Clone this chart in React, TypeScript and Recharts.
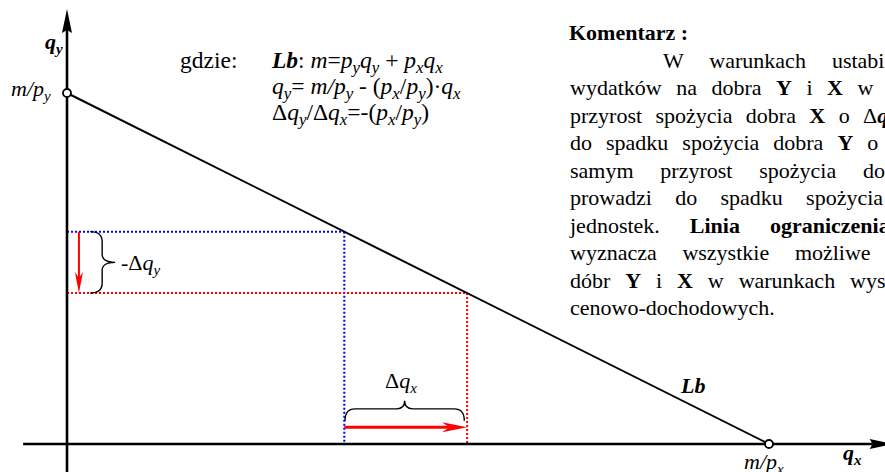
import React from "react";
import { ComposedChart, Line, XAxis, YAxis, ReferenceLine } from "recharts";

const W = 885;
const H = 472;
const UNIT = 35.1; // px per unit, same on both axes
const ORIGIN_X = 67;
const ORIGIN_Y = 444;
const SERIF = "'Liberation Serif', 'Times New Roman', serif";

// budget line: intercepts m/py (qy axis) and m/px (qx axis)
const mPy = 10;
const mPx = 20;
const budgetLine = [
  { qx: 0, qy: mPy },
  { qx: mPx, qy: 0 },
];

// the two bundles on the line
const qx1 = 7.9;
const qy1 = 6.05;
const qx2 = 11.4;
const qy2 = 4.3;

// axis extents
const xAxisFrom = -1.25;
const xAxisTo = 23.55;
const yAxisFrom = -0.9;
const yAxisTo = 12.39;

// annotation positions (data units)
const dqyArrowX = 0.34;
const dqyBraceX = 0.66;
const dqxArrowY = 0.48;
const dqxBraceY = 0.66;

const xDomain = [-ORIGIN_X / UNIT, (W - ORIGIN_X) / UNIT];
const yDomain = [-(H - ORIGIN_Y) / UNIT, ORIGIN_Y / UNIT];

const BLUE = "#0000ff";
const RED = "#ff0000";

type Part = [string, string?];

function Rich({
  x,
  y,
  parts,
  size = 22,
  ws = 0,
  subRatio = 0.68,
}: {
  x: number;
  y: number;
  parts: Part[];
  size?: number;
  ws?: number;
  subRatio?: number;
}) {
  let shift = 0;
  return (
    <text x={x} y={y} fontSize={size} fontFamily={SERIF} fill="#000" style={{ whiteSpace: "pre", wordSpacing: ws }}>
      {parts.map(([t, f = ""], i) => {
        const sub = f.includes("s");
        const target = sub ? Math.round(size * 0.23) : 0;
        const dy = target - shift;
        shift = target;
        return (
          <tspan
            key={i}
            dy={dy}
            fontStyle={f.includes("i") ? "italic" : "normal"}
            fontWeight={f.includes("b") ? "bold" : "normal"}
            fontSize={sub ? size * subRatio : size}
          >
            {t}
          </tspan>
        );
      })}
    </text>
  );
}

const arrowShape =
  (color: string, width: number, len: number, half: number, notch: number) =>
  (p: any) => {
    const { x1, y1, x2, y2 } = p;
    const dx = x2 - x1;
    const dy = y2 - y1;
    const L = Math.hypot(dx, dy) || 1;
    const ux = dx / L;
    const uy = dy / L;
    const nx = -uy;
    const ny = ux;
    const bx = x2 - ux * len;
    const by = y2 - uy * len;
    const mx = x2 - ux * (len - notch);
    const my = y2 - uy * (len - notch);
    const pts = `${x2},${y2} ${bx + nx * half},${by + ny * half} ${mx},${my} ${bx - nx * half},${by - ny * half}`;
    return (
      <g>
        <line x1={x1} y1={y1} x2={mx} y2={my} stroke={color} strokeWidth={width} />
        <polygon points={pts} fill={color} />
      </g>
    );
  };

// "}" brace, opening left
const braceV = (p: any) => {
  const { x1, y1, y2 } = p;
  const top = Math.min(y1, y2);
  const bot = Math.max(y1, y2);
  const mid = (top + bot) / 2;
  const s = x1 + 12;
  const tip = s + 13;
  const d = `M ${x1} ${top} Q ${s} ${top} ${s} ${top + 10} L ${s} ${mid - 8} Q ${s} ${mid} ${tip} ${mid} Q ${s} ${mid} ${s} ${mid + 8} L ${s} ${bot - 10} Q ${s} ${bot} ${x1} ${bot}`;
  return <path d={d} fill="none" stroke="#000" strokeWidth={1.4} />;
};

// brace opening down, point up
const braceH = (p: any) => {
  const { x1, x2, y1 } = p;
  const l = Math.min(x1, x2);
  const r = Math.max(x1, x2);
  const mid = (l + r) / 2;
  const f = y1 - 12;
  const tip = f - 8;
  const d = `M ${l} ${y1} Q ${l} ${f} ${l + 10} ${f} L ${mid - 8} ${f} Q ${mid} ${f} ${mid} ${tip} Q ${mid} ${f} ${mid + 8} ${f} L ${r - 10} ${f} Q ${r} ${f} ${r} ${y1}`;
  return <path d={d} fill="none" stroke="#000" strokeWidth={1.4} />;
};

const hollowDot = (props: any) => (
  <circle key={props.index} cx={props.cx} cy={props.cy} r={4} fill="#fff" stroke="#000" strokeWidth={1.8} />
);

// justified comment block, one entry per printed line (ws = extra word spacing)
const commentLines: { x: number; y: number; ws: number; parts: Part[] }[] = [
  { x: 569, y: 40, ws: 0, parts: [["Komentarz :", "b"]] },
  { x: 663, y: 67.5, ws: 20.5, parts: [["W warunkach ustabilizowanych"]] },
  { x: 570, y: 95, ws: 9, parts: [["wydatków na dobra "], ["Y", "b"], [" i "], ["X", "b"], [" w wysokości"]] },
  { x: 570, y: 122.5, ws: 7.9, parts: [["przyrost spożycia dobra "], ["X", "b"], [" o Δ"], ["q", "bi"], ["x", "bis"]] },
  { x: 570, y: 150, ws: 8.5, parts: [["do spadku spożycia dobra "], ["Y", "b"], [" o"]] },
  { x: 570, y: 177.5, ws: 21.3, parts: [["samym przyrost spożycia dobra"]] },
  { x: 570, y: 205, ws: 17.8, parts: [["prowadzi do spadku spożycia"]] },
  { x: 570, y: 232.5, ws: 24.5, parts: [["jednostek. "], ["Linia ograniczenia", "b"]] },
  { x: 570, y: 260, ws: 20.2, parts: [["wyznacza wszystkie możliwe"]] },
  { x: 570, y: 287.5, ws: 9.4, parts: [["dóbr "], ["Y", "b"], [" i "], ["X", "b"], [" w warunkach występowania"]] },
  { x: 570, y: 315, ws: 0, parts: [["cenowo-dochodowych."]] },
];

const EQ = 23.5;

export default function App() {
  return (
    <div style={{ position: "absolute", left: 0, top: 0, width: W, height: H, overflow: "hidden", background: "#fff" }}>
      <ComposedChart width={W} height={H} data={budgetLine} margin={{ top: 0, right: 0, bottom: 0, left: 0 }}>
        <XAxis type="number" dataKey="qx" domain={xDomain} allowDataOverflow hide />
        <YAxis type="number" domain={yDomain} allowDataOverflow hide />

        <ReferenceLine segment={[{ x: 0, y: qy1 }, { x: qx1, y: qy1 }]} stroke={BLUE} strokeWidth={2} strokeDasharray="2 2" />
        <ReferenceLine segment={[{ x: qx1, y: qy1 }, { x: qx1, y: 0 }]} stroke={BLUE} strokeWidth={2} strokeDasharray="2 2" />
        <ReferenceLine segment={[{ x: 0, y: qy2 }, { x: qx2, y: qy2 }]} stroke={RED} strokeWidth={2} strokeDasharray="2 2" />
        <ReferenceLine segment={[{ x: qx2, y: qy2 }, { x: qx2, y: 0 }]} stroke={RED} strokeWidth={2} strokeDasharray="2 2" />

        <ReferenceLine
          segment={[{ x: xAxisFrom, y: 0 }, { x: xAxisTo, y: 0 }]}
          ifOverflow="visible"
          shape={arrowShape("#000", 2.6, 24, 5, 3)}
        />
        <ReferenceLine
          segment={[{ x: 0, y: yAxisFrom }, { x: 0, y: yAxisTo }]}
          ifOverflow="visible"
          shape={arrowShape("#000", 2.6, 24, 5, 3)}
        />

        <ReferenceLine segment={[{ x: dqyArrowX, y: qy1 }, { x: dqyArrowX, y: qy2 }]} shape={arrowShape(RED, 2, 21, 4, 6)} />
        <ReferenceLine segment={[{ x: qx1, y: dqxArrowY }, { x: qx2, y: dqxArrowY }]} shape={arrowShape(RED, 3, 25, 5, 7)} />

        <ReferenceLine segment={[{ x: dqyBraceX, y: qy1 }, { x: dqyBraceX, y: qy2 }]} shape={braceV} />
        <ReferenceLine segment={[{ x: qx1 + 0.02, y: dqxBraceY }, { x: qx2 - 0.08, y: dqxBraceY }]} shape={braceH} />

        <Line dataKey="qy" stroke="#000" strokeWidth={2} dot={hollowDot} activeDot={false} isAnimationActive={false} />
      </ComposedChart>

      <svg width={W} height={H} style={{ position: "absolute", left: 0, top: 0, pointerEvents: "none" }}>
        <Rich x={45} y={49} parts={[["q", "bi"], ["y", "bis"]]} />
        <Rich x={11} y={96} parts={[["m/p", "i"], ["y", "is"]]} />
        <Rich x={744} y={469} parts={[["m/p", "i"], ["x", "is"]]} />
        <Rich x={843} y={460} parts={[["q", "bi"], ["x", "bis"]]} />
        <Rich x={681} y={393} parts={[["Lb", "bi"]]} />
        <Rich x={121} y={270} parts={[["-Δ"], ["q", "i"], ["y", "is"]]} />
        <Rich x={385} y={388} parts={[["Δ"], ["q", "i"], ["x", "is"]]} />

        <Rich x={180} y={68} size={EQ} parts={[["gdzie:"]]} />
        <Rich
          x={272}
          y={68}
          size={EQ}
          subRatio={0.72}
          parts={[["Lb", "bi"], [": "], ["m", "i"], ["="], ["p", "i"], ["y", "is"], ["q", "i"], ["y", "is"], [" + "], ["p", "i"], ["x", "is"], ["q", "i"], ["x", "is"]]}
        />
        <Rich
          x={272}
          y={94}
          size={EQ}
          subRatio={0.72}
          parts={[["q", "i"], ["y", "is"], ["= "], ["m/p", "i"], ["y", "is"], [" - ("], ["p", "i"], ["x", "is"], ["/"], ["p", "i"], ["y", "is"], [")·"], ["q", "i"], ["x", "is"]]}
        />
        <Rich
          x={272}
          y={120}
          size={EQ}
          subRatio={0.72}
          parts={[["Δ"], ["q", "i"], ["y", "is"], ["/Δ"], ["q", "i"], ["x", "is"], ["=-("], ["p", "i"], ["x", "is"], ["/"], ["p", "i"], ["y", "is"], [")"]]}
        />

        {commentLines.map((line, li) => (
          <Rich key={li} x={line.x} y={line.y} ws={line.ws} parts={line.parts} />
        ))}
      </svg>
    </div>
  );
}
